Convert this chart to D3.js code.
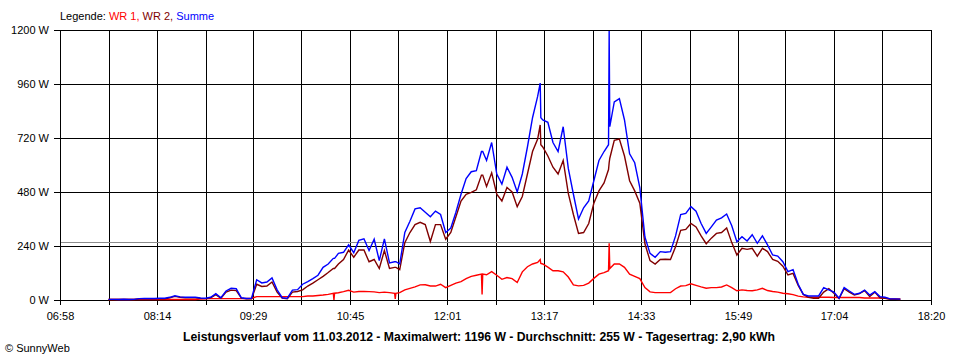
<!DOCTYPE html>
<html><head><meta charset="utf-8">
<script src="https://cdn.jsdelivr.net/npm/d3@7"></script>
<style>body{margin:0;background:#fff}svg{display:block}text{font-family:"Liberation Sans",Arial,sans-serif}</style>
</head><body><svg id="c" width="960" height="360"></svg>
<script>
// ---- data ----
const seriesNames = ["WR 1", "WR 2", "Summe"];
const seriesColors = ["#ff0000", "#800000", "#0000ff"];
const yTicks = [0, 240, 480, 720, 960, 1200];
const xGridTimes = ["06:58","07:36","08:14","08:52","09:29","10:07","10:45","11:23","12:01","12:39","13:17","13:55","14:33","15:11","15:49","16:26","17:04","17:42","18:20"];
const xTickLabels = ["06:58","08:14","09:29","10:45","12:01","13:17","14:33","15:49","17:04","18:20"];
const averageW = 255;
const titleText = "Leistungsverlauf vom 11.03.2012 - Maximalwert: 1196 W - Durchschnitt: 255 W - Tagesertrag: 2,90 kWh";

// minutes since midnight
const times = [
 456,460,464,468,472,476,480,484,488,492,
 496,500,504,508,512,516,520,524,528,532,
 536,540,544,548,552,556,560,564,568,572,
 576,580,584,588,592,596,600,604,608,612,
 616,620,624,628,632,632.5,633,636,640,644,648,
 652,656,660,664,668,672,676,680,680.5,681,
 684,688,692,696,700,704,708,712,716,720,724,728,732,736,740,744,748,748.5,749,
 752,756,760,764,768,772,776,780,784,788,792,794,794.5,
 796,800,804,808,812,816,820,824,828,832,836,840,844,847.5,
 848,848.5,
 852,856,860,864,868,872,876,880,884,888,892,896,900,904,908,912,916,920,924,928,
 932,936,940,944,948,952,956,960,964,968,972,976,980,984,988,992,996,1000,1004,1008,
 1012,1016,1020,1024,1028,1032,1036,1040,1044,1048,1052,1056,1060,1064,1068,1072,1076
];
const wr1 = [
 2,2,2,2,2,2,2,2,2,2,
 2,2,2,2,2,2,2,2,4,5,
 6,6,6,6,6,6,6,7,7,15,
 15,15,15,15,15,15,15,15,15,18,
 18,20,22,25,30,0,30,32,37,43,35,
 38,38,37,36,33,35,33,30,5,30,
 33,45,52,58,67,68,62,62,70,55,65,75,82,95,105,110,115,25,115,
 112,126,110,92,100,95,78,125,148,160,167,180,162,
 160,146,130,130,125,102,67,63,65,75,96,115,122,130,
 252,140,
 160,160,145,115,105,95,55,36,33,33,33,33,50,62,64,72,65,58,52,55,
 55,58,67,55,41,45,42,41,45,52,42,38,35,30,28,24,17,14,12,12,
 12,12,12,11,11,11,11,11,11,9,9,9,9,9,5,5,5
];
const wr2 = [
 2,2,2,2,2,2,5,5,5,5,
 5,5,10,16,12,10,10,10,7,6,
 10,24,8,35,44,42,8,5,5,70,
 60,62,80,35,8,5,35,38,45,62,
 75,90,105,122,140,140,140,160,180,222,190,
 222,222,170,180,140,220,140,145,145,145,
 135,255,300,335,345,335,260,335,335,270,300,370,440,470,478,490,555,555,555,
 505,565,470,440,500,480,415,460,560,660,715,778,690,
 680,640,590,560,620,474,380,296,300,340,430,485,520,580,
 610,630,
 710,715,640,530,485,430,250,175,160,180,181,180,237,310,314,340,325,285,250,275,
 296,300,320,255,200,230,225,230,195,230,215,180,172,150,111,118,65,25,12,8,
 8,35,50,30,6,50,35,22,28,42,15,35,10,8,3,3,2
];
const summe = [
 3,3,2,3,2,3,6,7,7,7,
 8,8,12,19,14,12,12,12,9,8,
 12,28,10,40,52,50,10,7,8,90,
 76,80,98,45,10,8,44,46,70,82,
 95,110,145,160,185,185,185,207,212,245,210,
 265,272,220,270,175,272,165,170,170,170,
 160,300,350,405,410,390,370,395,380,300,320,390,470,540,570,575,660,660,660,
 620,700,560,515,590,545,480,560,680,810,905,964,810,
 800,790,700,660,770,585,470,360,410,440,530,620,660,690,
 1196,770,
 880,895,800,650,610,500,280,207,190,215,212,215,285,380,385,415,395,340,296,325,
 355,365,382,330,259,281,262,290,252,285,245,200,195,170,126,135,70,25,18,18,
 18,55,45,35,8,55,40,25,30,44,22,37,15,12,5,5,4
];

// ---- chart ----
const toMin = s => { const [h,m] = s.split(":").map(Number); return h*60+m; };
const svg = d3.select("#c");
const L = 60, R = 931, T = 30, B = 300;
const x = d3.scaleLinear().domain([toMin(xGridTimes[0]), toMin(xGridTimes[xGridTimes.length-1])]).range([L, R]);
const xr = x.copy().interpolate(d3.interpolateRound);
const y = d3.scaleLinear().domain([0, 1200]).range([B, T]);

// horizontal gridlines
svg.append("g").selectAll("line").data(yTicks).join("line")
  .attr("x1", L).attr("x2", R + 1)
  .attr("y1", d => Math.round(y(d)) + 0.5).attr("y2", d => Math.round(y(d)) + 0.5)
  .attr("stroke", "#000").attr("shape-rendering", "crispEdges");
// vertical gridlines
svg.append("g").selectAll("line").data(xGridTimes).join("line")
  .attr("x1", d => xr(toMin(d)) + 0.5).attr("x2", d => xr(toMin(d)) + 0.5)
  .attr("y1", T).attr("y2", B + 1)
  .attr("stroke", "#000").attr("shape-rendering", "crispEdges");
// average line
svg.append("line").attr("x1", L + 1).attr("x2", R)
  .attr("y1", Math.round(y(averageW)) - 0.5).attr("y2", Math.round(y(averageW)) - 0.5)
  .attr("stroke", "#8c8c8c").attr("shape-rendering", "crispEdges");

// axes
const ya = svg.append("g").attr("transform", `translate(${L},0)`)
  .call(d3.axisLeft(y).tickValues(yTicks).tickSize(6).tickPadding(5).tickFormat(d => d + " W"));
ya.select(".domain").remove();
ya.selectAll("text").attr("font-size", 11).attr("font-family", '"Liberation Sans",Arial,sans-serif').attr("fill", "#000");
ya.selectAll("line").attr("stroke", "#000");

const xa = svg.append("g").attr("transform", `translate(0,${B})`)
  .call(d3.axisBottom(xr).tickValues(xGridTimes.map(toMin)).tickSize(5).tickPadding(7)
    .tickFormat(d => { const s = xGridTimes.find(t => toMin(t) === d); return xTickLabels.includes(s) ? s : ""; }));
xa.select(".domain").remove();
xa.selectAll("text").attr("font-size", 11).attr("font-family", '"Liberation Sans",Arial,sans-serif').attr("fill", "#000");
xa.selectAll("line").attr("stroke", "#000");

// series
const seriesData = [wr1, wr2, summe];
const line = d3.line().x((d, i) => x(times[i])).y(d => y(d));
seriesData.forEach((vals, si) => {
  svg.append("path").datum(vals).attr("d", line)
    .attr("fill", "none").attr("stroke", seriesColors[si]).attr("stroke-width", 1.4)
    .attr("stroke-linejoin", "miter");
});

// legend
const lg = svg.append("text").attr("x", 60).attr("y", 20).attr("font-size", 11);
lg.append("tspan").text("Legende: ").attr("fill", "#000");
seriesNames.forEach((n, i) => {
  lg.append("tspan").text(n + (i < seriesNames.length - 1 ? ", " : "")).attr("fill", seriesColors[i]);
});

// title
svg.append("text").attr("x", 479).attr("y", 341).attr("text-anchor", "middle")
  .attr("font-size", 12).attr("font-weight", "bold").attr("textLength", 592).attr("lengthAdjust", "spacingAndGlyphs")
  .text(titleText);
// copyright
svg.append("text").attr("x", 5).attr("y", 352).attr("font-size", 11).text("© SunnyWeb");
</script></body></html>
